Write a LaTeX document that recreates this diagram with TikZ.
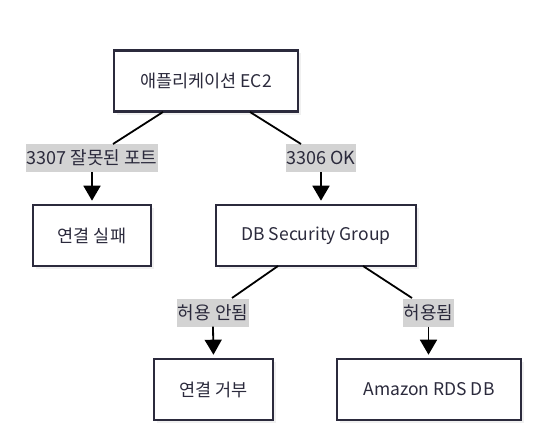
\documentclass[tikz,border=0pt]{standalone}
\usepackage{fontspec}
\setmainfont{Noto Sans CJK KR}
\usetikzlibrary{arrows.meta,shadows}
\definecolor{boxline}{HTML}{2B2A3C}
\definecolor{lbl}{HTML}{D3D3D3}
\begin{document}
\begin{tikzpicture}[x=1pt,y=-1pt,
  box/.style={draw=boxline, line width=2.6pt, fill=white, minimum height=61pt, inner sep=0pt,
    text=boxline, font=\fontsize{17.5}{20}\selectfont,
    drop shadow={shadow xshift=3pt, shadow yshift=-3pt, opacity=0.12, fill=gray}},
  elabel/.style={fill=lbl, inner xsep=1pt, inner ysep=0pt, minimum height=28pt, text=boxline, font=\fontsize{18}{20}\selectfont},
  conn/.style={draw=black, line width=1.8pt},
  arr/.style={conn, -{Triangle[length=15pt,width=17pt]}, shorten >=3pt}]
\useasboundingbox (0,0) rectangle (545,441);
\node[box, minimum width=184pt] (ec2) at (206,81) {애플리케이션 EC2};
\node[box, minimum width=118pt] (fail) at (92,235.5) {연결 실패};
\node[box, minimum width=200pt] (sg) at (316,235.5) {DB Security Group};
\node[box, minimum width=119pt] (deny) at (213.5,389.5) {연결 거부};
\node[box, minimum width=184pt] (rds) at (429,389.5) {Amazon RDS DB};
\node[elabel] (l1) at (92,158) {3307 잘못된 포트};
\node[elabel] (l2) at (321,158) {3306 OK};
\node[elabel] (l3) at (213,312.5) {허용 안됨};
\node[elabel] (l4) at (428.5,312.5) {허용됨};
\coordinate (ec2L) at (163,112);
\coordinate (ec2R) at (250,112);
\coordinate (l1T) at (113,144);
\coordinate (l2T) at (301,144);
\coordinate (sgL) at (278,266);
\coordinate (sgR) at (363,266);
\coordinate (l3T) at (232,298);
\coordinate (l4T) at (412,298);
\draw[conn] (ec2L) -- (l1T);
\draw[conn] (ec2R) -- (l2T);
\draw[conn] (sgL) -- (l3T);
\draw[conn] (sgR) -- (l4T);
\draw[arr] (l1.south) -- (fail.north);
\draw[arr] (l2.south) -- (sg.north -| l2.south);
\draw[arr] (l3.south) -- (deny.north);
\draw[arr] (l4.south) -- (rds.north -| l4.south);
\end{tikzpicture}
\end{document}
